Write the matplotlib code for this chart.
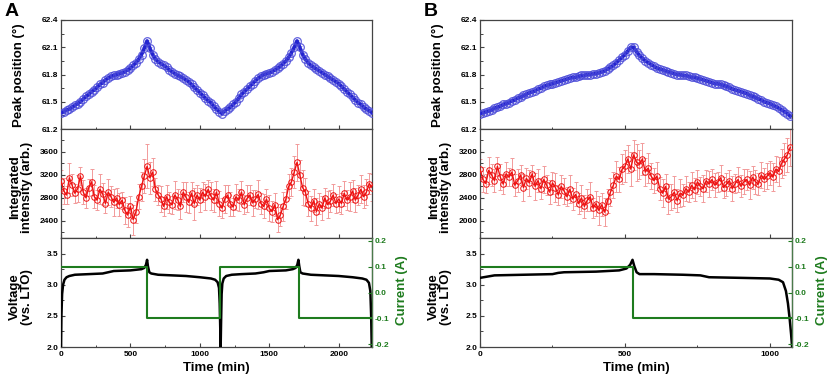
import numpy as np
import matplotlib
matplotlib.use("Agg")
import matplotlib.pyplot as plt
from matplotlib.ticker import MultipleLocator, FormatStrFormatter

plt.rcParams['font.family'] = ['Liberation Sans', 'DejaVu Sans']
plt.rcParams['font.weight'] = 'bold'

# ---------------- data ----------------
time_a = np.arange(0, 2241, 20)
peak_a = [61.38, 61.39, 61.41, 61.42, 61.44, 61.46, 61.48, 61.50, 61.53, 61.56,
          61.58, 61.61, 61.63, 61.66, 61.69, 61.71, 61.74, 61.76, 61.78, 61.79,
          61.80, 61.81, 61.82, 61.83, 61.85, 61.87, 61.90, 61.93, 61.97, 62.02,
          62.09, 62.17, 62.09, 62.02, 61.97, 61.94, 61.92, 61.90, 61.88, 61.85,
          61.83, 61.81, 61.79, 61.78, 61.76, 61.74, 61.72, 61.69, 61.66, 61.63,
          61.60, 61.57, 61.54, 61.51, 61.49, 61.45, 61.42, 61.39, 61.37, 61.40,
          61.42, 61.44, 61.47, 61.50, 61.54, 61.58, 61.61, 61.64, 61.67, 61.70,
          61.73, 61.76, 61.78, 61.80, 61.81, 61.82, 61.83, 61.85, 61.87, 61.89,
          61.92, 61.95, 61.99, 62.04, 62.10, 62.17, 62.10, 62.02, 61.97, 61.93,
          61.90, 61.88, 61.86, 61.84, 61.82, 61.80, 61.78, 61.76, 61.74, 61.72,
          61.70, 61.67, 61.64, 61.61, 61.58, 61.55, 61.52, 61.49, 61.47, 61.44,
          61.42, 61.40, 61.38]
intensity_a = [3100, 2920, 2850, 3150, 3020, 2880, 2960, 3180, 2900, 2800,
               2980, 3080, 2820, 2760, 2950, 2870, 2700, 2900, 2820, 2720,
               2800, 2680, 2760, 2580, 2500, 2650, 2420, 2560, 2820, 3000,
               3180, 3350, 3150, 3250, 2950, 2850, 2780, 2650, 2820, 2720,
               2680, 2850, 2770, 2650, 2900, 2810, 2720, 2880, 2700, 2850,
               2760, 2900, 2820, 2950, 2830, 2760, 2900, 2700, 2620, 2780,
               2850, 2700, 2640, 2820, 2760, 2900, 2680, 2790, 2850, 2710,
               2780, 2860, 2700, 2650, 2780, 2620, 2560, 2680, 2420, 2500,
               2650, 2780, 3000, 3080, 3250, 3420, 3200, 2980, 2900, 2700,
               2620, 2750, 2560, 2700, 2620, 2800, 2680, 2740, 2850, 2700,
               2780, 2700, 2880, 2760, 2820, 2920, 2760, 2850, 2950, 2820,
               2900, 3050, 2980]
intensity_err_a = [180, 220, 150, 260, 190, 170, 240, 160, 210, 180,
                   150, 230, 200, 170, 260, 190, 160, 220, 180, 240,
                   170, 200, 150, 230, 210, 180, 260, 190, 220, 250,
                   300, 380, 280, 240, 200, 180, 230, 170, 210, 190,
                   160, 240, 180, 220, 170, 260, 190, 200, 280, 170,
                   210, 180, 230, 160, 240, 200, 190, 220, 170, 250,
                   180, 210, 160, 230, 190, 200, 170, 240, 180, 220,
                   160, 250, 190, 210, 170, 230, 180, 200, 220, 190,
                   260, 180, 210, 240, 280, 320, 260, 300, 250, 220,
                   220, 200, 230, 180, 210, 170, 240, 190, 200, 160,
                   230, 180, 220, 170, 250, 190, 210, 180, 240, 200,
                   220, 190, 230]
volt_t_a = [0, 3, 8, 15, 25, 40, 60, 100, 200, 300, 340, 380, 500, 580, 600, 612,
            620, 626, 636, 650, 700, 800, 900, 1000, 1080, 1110, 1128, 1138, 1143,
            1147, 1150, 1153, 1157, 1162, 1172, 1190, 1230, 1300, 1400, 1460, 1500,
            1620, 1670, 1690, 1702, 1710, 1716, 1724, 1740, 1800, 1900, 2000, 2100,
            2170, 2200, 2218, 2228, 2234, 2238]
volt_a = [2.0, 2.5, 2.85, 3.0, 3.08, 3.12, 3.14, 3.16, 3.17, 3.18, 3.2, 3.22, 3.23,
          3.25, 3.27, 3.32, 3.4, 3.3, 3.2, 3.18, 3.16, 3.15, 3.14, 3.12, 3.1, 3.08,
          3.04, 2.95, 2.7, 2.3, 2.0, 2.4, 2.85, 3.02, 3.1, 3.14, 3.16, 3.17, 3.18,
          3.2, 3.22, 3.23, 3.25, 3.27, 3.32, 3.4, 3.3, 3.2, 3.18, 3.16, 3.15, 3.14,
          3.12, 3.1, 3.08, 3.03, 2.9, 2.5, 2.0]
cur_t_a = [0, 620, 1148, 1712, 2240]
cur_a = [0.1, -0.1, 0.1, -0.1, -0.1]

time_b = np.arange(0, 1071, 10)
peak_b = [61.37, 61.38, 61.39, 61.40, 61.41, 61.43, 61.44, 61.45, 61.47, 61.48,
          61.49, 61.51, 61.52, 61.54, 61.55, 61.57, 61.58, 61.60, 61.61, 61.62,
          61.64, 61.65, 61.67, 61.68, 61.69, 61.70, 61.71, 61.72, 61.73, 61.74,
          61.75, 61.76, 61.77, 61.77, 61.78, 61.79, 61.79, 61.80, 61.80, 61.81,
          61.81, 61.82, 61.83, 61.84, 61.86, 61.88, 61.90, 61.93, 61.96, 61.99,
          62.02, 62.06, 62.10, 62.10, 62.05, 62.01, 61.98, 61.95, 61.93, 61.91,
          61.89, 61.87, 61.86, 61.85, 61.84, 61.83, 61.82, 61.81, 61.80, 61.80,
          61.79, 61.79, 61.78, 61.77, 61.77, 61.76, 61.75, 61.74, 61.73, 61.72,
          61.71, 61.70, 61.70, 61.69, 61.68, 61.67, 61.66, 61.64, 61.63, 61.62,
          61.61, 61.60, 61.59, 61.57, 61.56, 61.55, 61.53, 61.52, 61.50, 61.49,
          61.48, 61.46, 61.45, 61.43, 61.41, 61.39, 61.37, 61.34]
intensity_b = [2900, 2720, 2650, 2880, 2800, 2700, 2950, 2760, 2640, 2820,
               2760, 2850, 2620, 2700, 2800, 2580, 2740, 2660, 2820, 2600,
               2700, 2560, 2720, 2620, 2500, 2660, 2580, 2450, 2600, 2520,
               2420, 2550, 2380, 2460, 2300, 2400, 2250, 2360, 2420, 2220,
               2300, 2180, 2280, 2150, 2350, 2500, 2620, 2780, 2720, 2900,
               2950, 3080, 2900, 3150, 3020, 2980, 3080, 2850, 2920, 2780,
               2700, 2780, 2560, 2480, 2600, 2380, 2420, 2500, 2350, 2480,
               2450, 2560, 2500, 2620, 2540, 2680, 2600, 2560, 2700, 2640,
               2720, 2620, 2680, 2750, 2580, 2640, 2700, 2560, 2650, 2720,
               2600, 2680, 2720, 2620, 2760, 2680, 2640, 2800, 2720, 2780,
               2840, 2760, 2900, 2860, 3000, 3080, 3150, 3280]
intensity_err_b = [180, 220, 160, 240, 190, 200, 170, 230, 180, 210,
                   160, 250, 190, 200, 170, 230, 180, 220, 160, 240,
                   200, 180, 230, 170, 210, 190, 250, 180, 200, 220,
                   170, 240, 190, 210, 180, 230, 200, 190, 250, 180,
                   220, 260, 200, 240, 210, 250, 230, 270, 220, 260,
                   280, 240, 300, 260, 320, 250, 280, 240, 260, 230,
                   220, 250, 200, 240, 210, 260, 230, 280, 200, 240,
                   190, 220, 180, 230, 200, 210, 170, 240, 190, 220,
                   180, 210, 170, 230, 190, 200, 180, 220, 170, 210,
                   190, 220, 180, 240, 200, 210, 190, 230, 200, 220,
                   210, 240, 230, 260, 250, 280, 300, 320]
volt_t_b = [0, 50, 150, 250, 270, 290, 400, 480, 505, 518, 526, 532, 540, 550,
            600, 700, 760, 790, 900, 1000, 1030, 1045, 1055, 1062, 1068, 1073, 1076]
volt_b = [3.11, 3.15, 3.16, 3.17, 3.19, 3.2, 3.21, 3.23, 3.26, 3.32, 3.4, 3.3, 3.2,
          3.17, 3.17, 3.16, 3.15, 3.12, 3.11, 3.1, 3.08, 3.04, 2.9, 2.7, 2.45, 2.2, 2.02]
cur_t_b = [0, 528, 1076]
cur_b = [0.1, -0.1, -0.1]

peak_err = 0.015

# ---------------- styling ----------------
W, H = 829, 382
fig = plt.figure(figsize=(W / 100, H / 100), dpi=100)
SPINE = '#444444'
GREEN = '#1e7b1e'
BLUE = '#2323d0'
RED = '#ee1111'


def px_axes(x0, y0, x1, y1):
    return fig.add_axes([x0 / W, 1 - y1 / H, (x1 - x0) / W, (y1 - y0) / H])


def style(ax):
    for s in ax.spines.values():
        s.set_color(SPINE)
        s.set_linewidth(0.9)
    ax.tick_params(which='both', direction='in', colors=SPINE, labelcolor='black',
                   labelsize=6, pad=2, top=False, right=False)
    ax.tick_params(which='major', length=3, width=0.8)
    ax.tick_params(which='minor', length=1.8, width=0.7)


panels = [
    dict(x0=61, x1=372, time=time_a, peak=peak_a, inten=intensity_a, ierr=intensity_err_a,
         vt=volt_t_a, v=volt_a, ct=cur_t_a, c=cur_a, xmax=2240, ilim=(2100, 4000),
         iticks=[2400, 2800, 3200, 3600], letter='A', lx=5),
    dict(x0=480, x1=792, time=time_b, peak=peak_b, inten=intensity_b, ierr=intensity_err_b,
         vt=volt_t_b, v=volt_b, ct=cur_t_b, c=cur_b, xmax=1076, ilim=(1700, 3600),
         iticks=[2000, 2400, 2800, 3200], letter='B', lx=424),
]

for p in panels:
    ax1 = px_axes(p['x0'], 20, p['x1'], 129)
    ax2 = px_axes(p['x0'], 129, p['x1'], 238)
    ax3 = px_axes(p['x0'], 238, p['x1'], 347)
    for ax in (ax1, ax2, ax3):
        style(ax)
        ax.set_xlim(0, p['xmax'])
        ax.xaxis.set_major_locator(MultipleLocator(500))
        ax.xaxis.set_minor_locator(MultipleLocator(250))
    ax1.tick_params(labelbottom=False)
    ax2.tick_params(labelbottom=False)

    # peak position
    ax1.errorbar(p['time'], p['peak'], yerr=peak_err, fmt='none',
                 ecolor='#9a9ae8', elinewidth=0.7, capsize=1.5, capthick=0.7, zorder=2)
    ax1.plot(p['time'], p['peak'], '-', color=BLUE, lw=2.6, zorder=3)
    ax1.plot(p['time'], p['peak'], 'o', ms=5.5, mfc='none', mec='#4a4ad8', mew=0.9,
             alpha=0.85, zorder=4)
    ax1.set_ylim(61.2, 62.4)
    ax1.yaxis.set_major_locator(MultipleLocator(0.3))
    ax1.yaxis.set_minor_locator(MultipleLocator(0.15))
    ax1.yaxis.set_major_formatter(FormatStrFormatter('%.1f'))

    # integrated intensity
    ax2.errorbar(p['time'], p['inten'], yerr=p['ierr'], fmt='none', ecolor='#f29a9a',
                 elinewidth=0.7, capsize=1.5, capthick=0.7, zorder=2)
    ax2.plot(p['time'], p['inten'], 'o-', ms=4, mfc='none', mec=RED, mew=0.7,
             color=RED, lw=1.0, zorder=3)
    ax2.set_ylim(*p['ilim'])
    ax2.set_yticks(p['iticks'])
    ax2.yaxis.set_minor_locator(MultipleLocator(200))

    # voltage and current
    ax3.plot(p['vt'], p['v'], color='black', lw=1.8, zorder=4)
    ax3.set_ylim(2.0, 3.75)
    ax3.set_yticks([2.0, 2.5, 3.0, 3.5])
    ax3.yaxis.set_minor_locator(MultipleLocator(0.25))
    ax3.yaxis.set_major_formatter(FormatStrFormatter('%.1f'))
    ax3.set_xlabel('Time (min)', fontsize=9.5, fontweight='bold', labelpad=3)
    ax3.tick_params(axis='x', pad=3)
    ax4 = ax3.twinx()
    ax4.step(p['ct'], p['c'], where='post', color=GREEN, lw=1.5, zorder=3)
    ax4.set_ylim(-0.21, 0.21)
    ax4.set_yticks([-0.2, -0.1, 0.0, 0.1, 0.2])
    ax4.yaxis.set_major_formatter(FormatStrFormatter('%.1f'))
    for s in ax4.spines.values():
        s.set_visible(False)
    ax4.spines['right'].set_visible(True)
    ax4.spines['right'].set_color('#4a7a4a')
    ax4.spines['right'].set_linewidth(0.9)
    ax4.tick_params(axis='y', direction='in', colors=GREEN, labelcolor=GREEN,
                    labelsize=6, pad=2, length=3, width=0.8)
    ax4.set_xlim(0, p['xmax'])

    # labels
    xc = p['x0'] - 42
    fig.text(xc / W, 1 - 75 / H, 'Peak position (°)', rotation=90, ha='center',
             va='center', fontsize=9.5, fontweight='bold')
    fig.text((xc + 2) / W, 1 - 187 / H, 'Integrated\nintensity (arb.)', rotation=90,
             ha='center', va='center', fontsize=9.5, fontweight='bold', linespacing=1.0)
    fig.text((xc + 2) / W, 1 - 297 / H, 'Voltage\n(vs. LTO)', rotation=90,
             ha='center', va='center', fontsize=9.5, fontweight='bold', linespacing=1.0)
    fig.text((p['x1'] + 30) / W, 1 - 290 / H, 'Current (A)', rotation=90,
             ha='center', va='center', fontsize=9.5, fontweight='bold', color=GREEN)
    fig.text(p['lx'] / W, 1 - 11 / H, p['letter'], ha='left', va='center',
             fontsize=14, fontweight='bold')

fig.savefig('out.png', dpi=100)
